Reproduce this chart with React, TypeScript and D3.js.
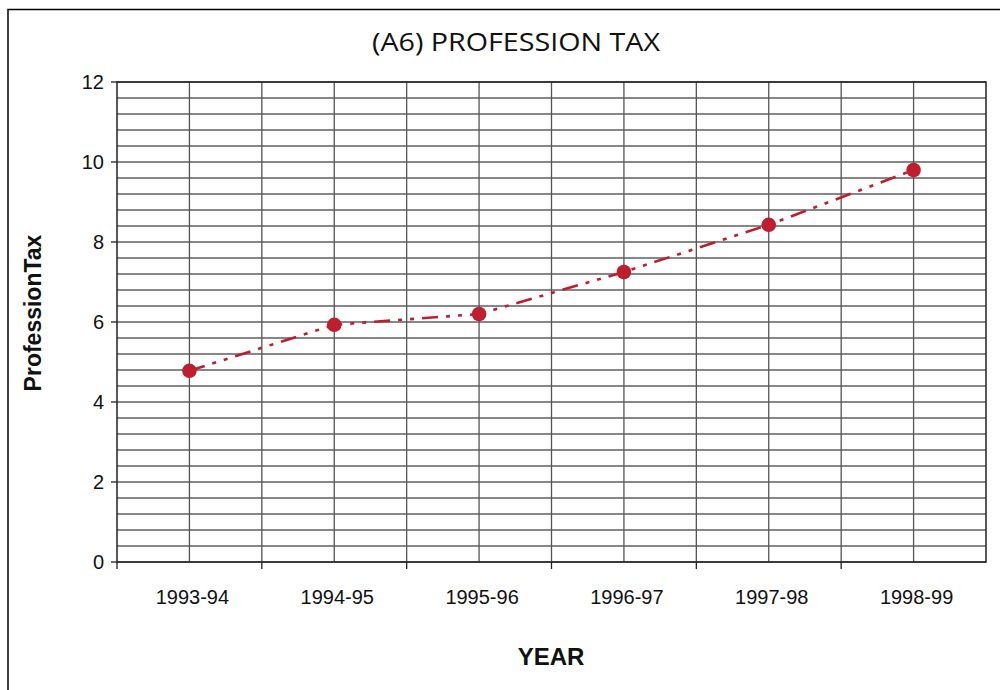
import React from "react";
import * as d3 from "d3";

const years = ["1993-94", "1994-95", "1995-96", "1996-97", "1997-98", "1998-99"];
const values = [4.78, 5.93, 6.2, 7.25, 8.43, 9.8];
const yTicks = [0, 2, 4, 6, 8, 10, 12];

const W = 1000;
const H = 690;
const left = 117;
const right = 986;
const top = 82;
const bottom = 562;
const red = "#BE1E2D";

export default function App() {
  const x = d3.scaleBand<string>().domain(years).range([left, right]);
  const y = d3.scaleLinear().domain([0, 12]).range([bottom, top]);
  const minor = d3.range(0, 12.001, 0.4).map((v) => +v.toFixed(1));
  const bw = x.bandwidth();
  const vlines: number[] = [];
  years.forEach((yr, i) => {
    const x0 = x(yr)!;
    vlines.push(x0 + bw / 2);
    if (i > 0) vlines.push(x0);
  });
  const line = d3
    .line<number>()
    .x((_, i) => x(years[i])! + bw / 2)
    .y((d) => y(d));

  return (
    <svg
      width={W}
      height={H}
      style={{ position: "absolute", left: 0, top: 0, display: "block" }}
    >
      <rect x={0} y={0} width={W} height={H} fill="white" />
      <rect x={8} y={9.5} width={1000} height={700} fill="none" stroke="#000" strokeWidth={1.5} />
      <text
        x={516}
        y={51}
        textAnchor="middle"
        fontFamily="'Open Sans', sans-serif"
        fontSize={25}
        textLength={288}
        lengthAdjust="spacingAndGlyphs"
        fill="#111"
      >
        (A6) PROFESSION TAX
      </text>
      {minor.map((v) => (
        <line key={"h" + v} x1={left} x2={right} y1={y(v)} y2={y(v)} stroke="#111" strokeWidth={1.2} />
      ))}
      {vlines.map((vx, i) => (
        <line key={"v" + i} x1={vx} x2={vx} y1={top} y2={bottom} stroke="#555" strokeWidth={1.3} />
      ))}
      <rect x={left} y={top} width={right - left} height={bottom - top} fill="none" stroke="#222" strokeWidth={1.5} />
      {yTicks.map((t) => (
        <g key={"yt" + t}>
          <line x1={left - 6} x2={left} y1={y(t)} y2={y(t)} stroke="#222" strokeWidth={1.3} />
          <text
            x={left - 13}
            y={y(t) + 7}
            textAnchor="end"
            fontFamily="'Liberation Sans', Arial, sans-serif"
            fontSize={20}
            fill="#111"
          >
            {t}
          </text>
        </g>
      ))}
      {years.map((yr, i) => (
        <g key={"xt" + yr}>
          <line
            x1={x(yr)!}
            x2={x(yr)!}
            y1={bottom}
            y2={bottom + 7}
            stroke="#222"
            strokeWidth={1.3}
          />
          <text
            x={x(yr)! + bw / 2 + 3}
            y={604}
            textAnchor="middle"
            fontFamily="'Liberation Sans', Arial, sans-serif"
            fontSize={20}
            fill="#111"
          >
            {yr}
          </text>
        </g>
      ))}
      <path
        d={line(values) || ""}
        fill="none"
        stroke={red}
        strokeWidth={2.6}
        strokeDasharray="16 8 4 8 4 8"
      />
      {values.map((v, i) => (
        <circle key={"c" + i} cx={x(years[i])! + bw / 2} cy={y(v)} r={7.3} fill={red} />
      ))}
      <text
        transform={`translate(41,313) rotate(-90)`}
        textAnchor="middle"
        fontFamily="'Liberation Sans', Arial, sans-serif"
        fontWeight="bold"
        fontSize={23}
        fill="#111"
      >
        ProfessionTax
      </text>
      <text
        x={551}
        y={665}
        textAnchor="middle"
        fontFamily="'Liberation Sans', Arial, sans-serif"
        fontWeight="bold"
        fontSize={24}
        fill="#111"
      >
        YEAR
      </text>
    </svg>
  );
}
